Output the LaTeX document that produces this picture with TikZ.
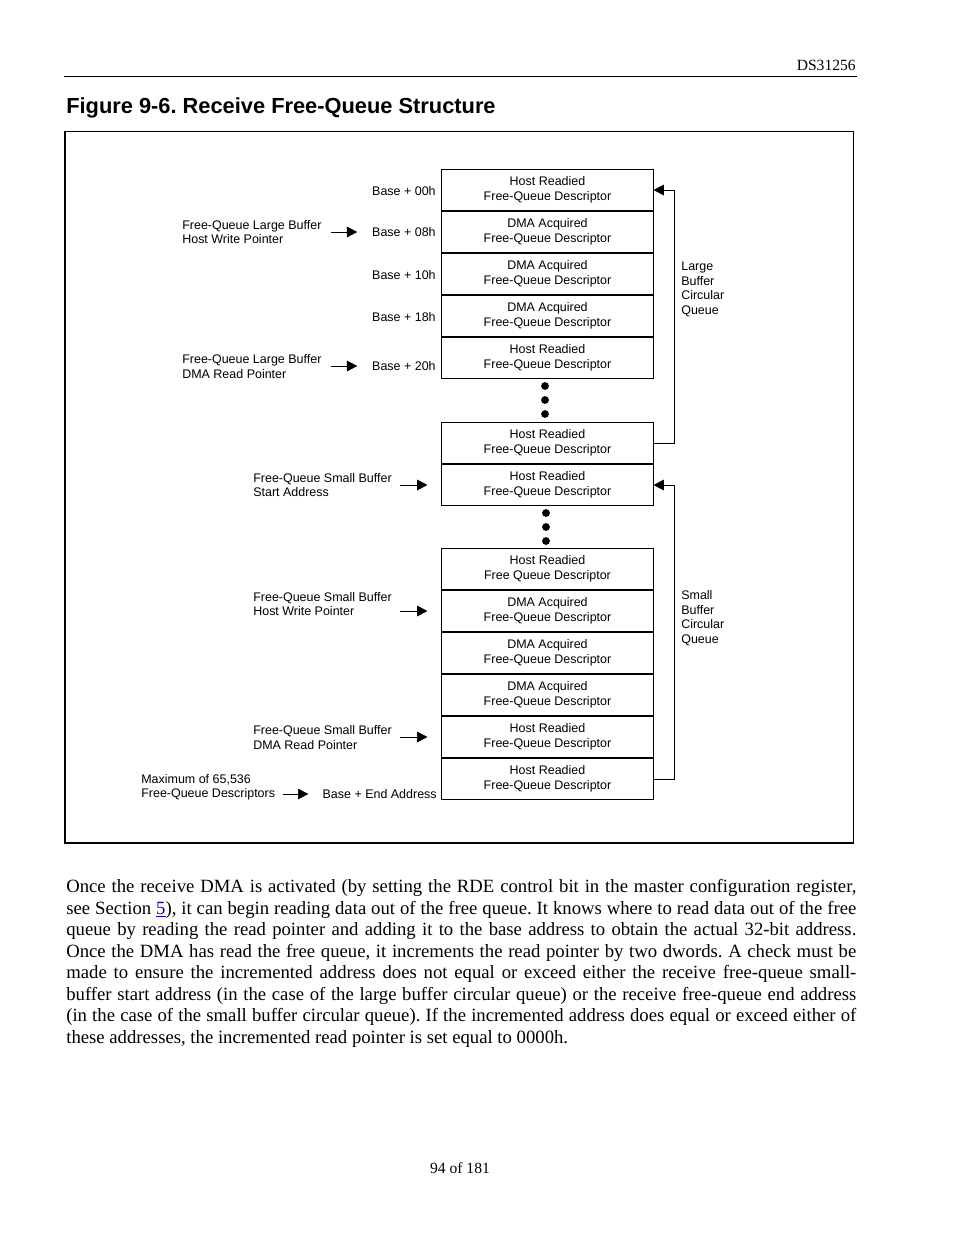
\documentclass[tikz,border=0pt]{standalone}
\usepackage{fontspec}
\setmainfont{Liberation Serif}
\newfontfamily\arialfont{Liberation Sans}
\usetikzlibrary{arrows.meta}
\frenchspacing

\begin{document}
\begin{tikzpicture}[x=0.6415pt,y=-0.6415pt,
    desc/.style={draw,line width=0.65pt,minimum width=135.4pt,minimum height=26.9pt,
      inner sep=0pt,align=center,font=\arialfont\fontsize{8}{9.6}\selectfont},
    lbl/.style={inner sep=0pt,align=left,font=\arialfont\fontsize{8}{9.3}\selectfont},
    ptr/.style={line width=0.65pt,-{Triangle[length=6.6pt,width=6.8pt]}},
    thinptr/.style={ptr,line width=0.35pt},
    qdot/.style={circle,fill,inner sep=0pt,minimum size=5pt}]
  \useasboundingbox (0,0) rectangle (954,1235);

  % Page header
  \node[anchor=base east,inner sep=0pt,font=\fontsize{10}{12}\selectfont] (hdr) at (856,70) {DS31256};
  \draw[line width=0.6pt] (64,76) -- (857,76);
  \node[anchor=base west,inner sep=0pt,font=\arialfont\bfseries\fontsize{14}{16}\selectfont] (title) at (66,113)
    {Figure 9-6. Receive Free-Queue Structure};

  % Figure frame
  \draw[line width=0.65pt] (65,131) rectangle (853,843);
  \draw[line width=1.4pt] (65,843) -- (853.3,843);

  % Large buffer descriptors
  \node[desc] (l0) at (547.5,190) {Host Readied\\Free-Queue Descriptor};
  \node[desc] (l1) at (547.5,232) {DMA Acquired\\Free-Queue Descriptor};
  \node[desc] (l2) at (547.5,274) {DMA Acquired\\Free-Queue Descriptor};
  \node[desc] (l3) at (547.5,316) {DMA Acquired\\Free-Queue Descriptor};
  \node[desc] (l4) at (547.5,358) {Host Readied\\Free-Queue Descriptor};
  \draw[line width=1.2pt] (l3.north west) -- (l3.north east);
  \draw[line width=1.2pt] (l4.north west) -- (l4.north east);
  \node[qdot] (ld1) at (545,386) {};
  \node[qdot] (ld2) at (545,400) {};
  \node[qdot] (ld3) at (545,414) {};
  \node[desc] (l5) at (547.5,443) {Host Readied\\Free-Queue Descriptor};

  % Small buffer descriptors
  \node[desc] (s0) at (547.5,485) {Host Readied\\Free-Queue Descriptor};
  \node[qdot] (sd1) at (546,513) {};
  \node[qdot] (sd2) at (546,527) {};
  \node[qdot] (sd3) at (546,541) {};
  \node[desc] (s1) at (547.5,569) {Host Readied\\Free Queue Descriptor};
  \node[desc] (s2) at (547.5,611) {DMA Acquired\\Free-Queue Descriptor};
  \node[desc] (s3) at (547.5,653) {DMA Acquired\\Free-Queue Descriptor};
  \node[desc] (s4) at (547.5,695) {DMA Acquired\\Free-Queue Descriptor};
  \node[desc] (s5) at (547.5,737) {Host Readied\\Free-Queue Descriptor};
  \node[desc] (s6) at (547.5,779) {Host Readied\\Free-Queue Descriptor};
  \draw[line width=1.2pt] (s5.north west) -- (s5.north east);

  % Base offsets
  \node[lbl,anchor=east] (b00) at (436,191) {Base + 00h};
  \node[lbl,anchor=east] (b08) at (436,232) {Base + 08h};
  \node[lbl,anchor=east] (b10) at (436,275) {Base + 10h};
  \node[lbl,anchor=east] (b18) at (436,317) {Base + 18h};
  \node[lbl,anchor=east] (b20) at (436,366) {Base + 20h};
  \node[lbl,anchor=east] (bend) at (437,794) {Base + End Address};

  % Pointer labels
  \node[lbl,anchor=west] (lhw) at (182,232) {Free-Queue Large Buffer\\Host Write Pointer};
  \node[lbl,anchor=west] (ldr) at (182,366.5) {Free-Queue Large Buffer\\DMA Read Pointer};
  \node[lbl,anchor=west] (ssa) at (253,485) {Free-Queue Small Buffer\\Start Address};
  \node[lbl,anchor=west] (shw) at (253,604) {Free-Queue Small Buffer\\Host Write Pointer};
  \node[lbl,anchor=west] (sdr) at (253,737.5) {Free-Queue Small Buffer\\DMA Read Pointer};
  \node[lbl,anchor=west] (maxd) at (141,787.5) {Maximum of 65,536\\Free-Queue Descriptors};

  % Pointer arrows
  \draw[ptr,shorten <=5.8pt,shorten >=9.4pt] (lhw) -- (b08);
  \draw[ptr,shorten <=5.8pt,shorten >=9.4pt] (ldr.east |- b20) -- (b20);
  \draw[ptr,shorten <=5.4pt,shorten >=9pt] (ssa) -- (s0);
  \draw[ptr,shorten <=5.4pt,shorten >=9pt] (shw.east |- s2) -- (s2);
  \draw[thinptr,shorten <=5.4pt,shorten >=9pt] (sdr.east |- s5) -- (s5);
  \draw[thinptr,shorten <=4.7pt,shorten >=9pt] (maxd.east |- bend) -- (bend);

  % Circular queues
  \draw[ptr] (l5.east) -- ++(21,0) |- (l0.east);
  \draw[ptr] (s6.east) -- ++(21,0) |- (s0.east);
  \node[lbl,anchor=west] (lcq) at (681,289.5) {Large\\Buffer\\Circular\\Queue};
  \node[lbl,anchor=west] (scq) at (681,618) {Small\\Buffer\\Circular\\Queue};

  % Body text
  \node[anchor=north west,inner sep=0pt,text width=506.8pt,align=justify,
    font=\fontsize{12}{13.8}\selectfont] (para) at (66,879)
    {Once the receive DMA is activated (by setting the RDE control bit in the master configuration register,\linebreak
     see Section \textcolor{blue!80!black}{\underline{5}}), it can begin reading data out of the free queue. It knows where to read data out of the free\linebreak
     queue by reading the read pointer and adding it to the base address to obtain the actual 32-bit address.\linebreak
     Once the DMA has read the free queue, it increments the read pointer by two dwords. A check must be\linebreak
     made to ensure the incremented address does not equal or exceed either the receive free-queue small-\linebreak
     buffer start address (in the case of the large buffer circular queue) or the receive free-queue end address\linebreak
     (in the case of the small buffer circular queue). If the incremented address does equal or exceed either of\linebreak
     these addresses, the incremented read pointer is set equal to 0000h.};

  % Page footer
  \node[anchor=base,inner sep=0pt,font=\fontsize{10}{12}\selectfont] (ftr) at (460,1173) {94 of 181};
\end{tikzpicture}
\end{document}
